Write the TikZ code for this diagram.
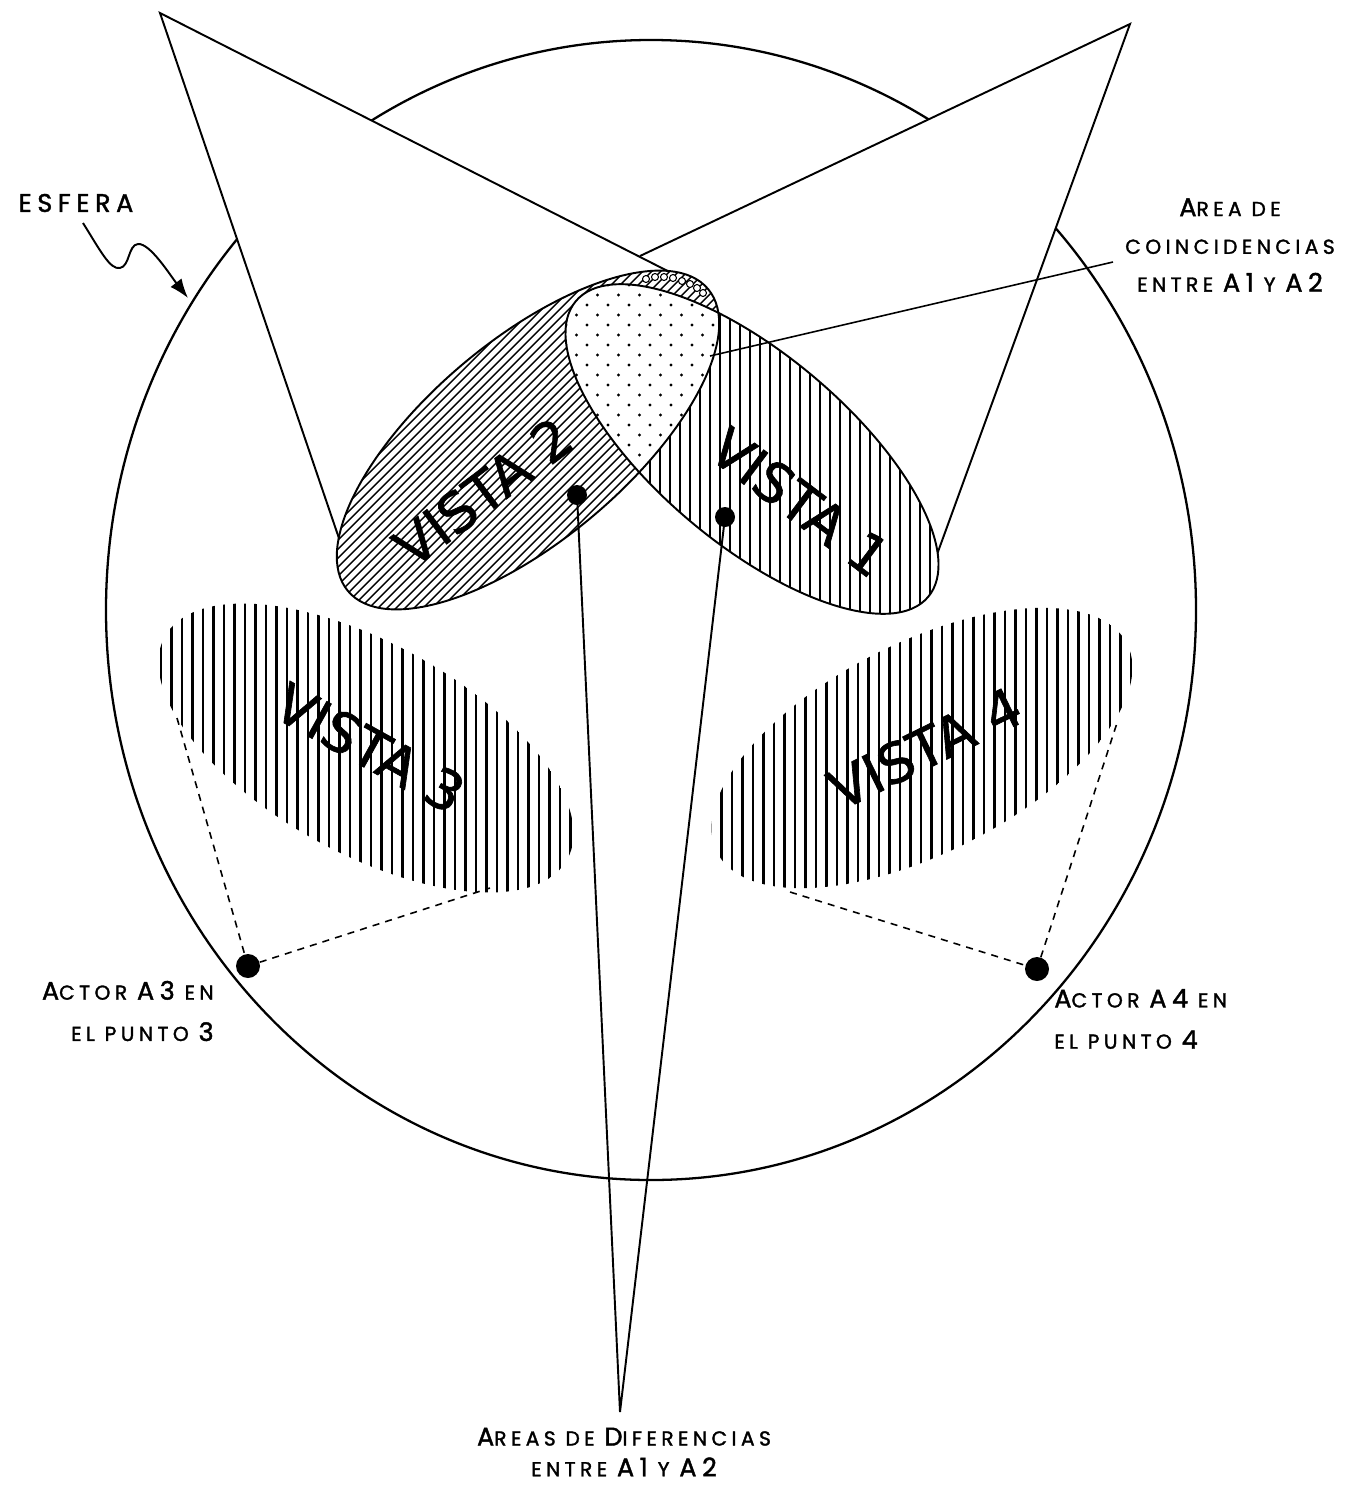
\documentclass[tikz,border=0pt]{standalone}
\usepackage{fontspec}
\setmainfont{Poppins}
\newfontfamily\lblfont[LetterSpace=22, FakeBold=1.6]{Poppins}
\newfontfamily\vistafont[FakeBold=1.2]{DejaVu Sans}
\usetikzlibrary{arrows.meta}
\newcommand\capl[1]{{\fontsize{14.5}{14.5}\selectfont #1}}
\newcommand\low[1]{\MakeUppercase{#1}}

\begin{document}
\begin{tikzpicture}[x=0.02cm, y=-0.02cm, >={Latex[length=11pt,width=8pt]},
  every node/.style={font=\lblfont\fontsize{11.5}{21.5}\selectfont, inner sep=0pt},
  vista/.style={font=\vistafont\fontsize{31}{31}\selectfont},
  rim/.style={line width=1.1pt},
  hatch/.style={line width=0.8pt},
  bars/.style={line width=1.3pt},
  spot/.style={circle, fill=black, minimum size=0.4cm},
  actor/.style={circle, fill=black, minimum size=0.48cm},
  sight/.style={dash pattern=on 4pt off 3.5pt, line width=0.9pt}]

  \useasboundingbox (0,0) rectangle (1345,1488);

  \coordinate (sph) at (651,610);
  \coordinate (la) at (160,13);
  \coordinate (l1) at (344,553);
  \coordinate (l2) at (707,291);
  \coordinate (ra) at (1130,24);
  \coordinate (r1) at (935,560);
  \coordinate (cross) at (640,256);
  \coordinate (c1) at (752,449);
  \coordinate (c2) at (528,440);
  \coordinate (c3) at (366,748);
  \coordinate (c4) at (922,748);

  \draw[line width=1.3pt] (sph) ellipse (545 and 570);

  \fill[white] (ra) -- (r1) -- (c1) -- (cross) -- cycle;
  \draw[rim] (cross) -- (ra) -- (r1);
  \fill[white] (la) -- (l1) -- (c2) -- (l2) -- cycle;
  \draw[rim] (l1) -- (la) -- (l2);

  \begin{scope}
    \clip[rotate around={40:(c2)}] (c2) ellipse (235 and 100);
    \fill[white] (300,250) rectangle (760,650);
    \foreach \k in {590,599,...,1350}
      \draw[hatch] (\k-250,250) -- (\k-650,650);
  \end{scope}
  \begin{scope}
    \clip[rotate around={-40:(c1)}] (c1) ellipse (230 and 95);
    \fill[white] (540,260) rectangle (960,640);
    \foreach \x in {560,570,...,950}
      \draw[hatch] (\x,260) -- (\x,640);
  \end{scope}
  \begin{scope}
    \clip[rotate around={40:(c2)}] (c2) ellipse (235 and 100);
    \clip[rotate around={-40:(c1)}] (c1) ellipse (230 and 95);
    \fill[white] (540,260) rectangle (760,480);
    \foreach \j in {0,...,22}
      \foreach \i in {0,...,11}
        \fill ({545+21*\i+10.5*mod(\j,2)},{265+10*\j}) circle (1.6);
  \end{scope}
  \draw[rim, rotate around={40:(c2)}] (c2) ellipse (235 and 100);
  \draw[rim, rotate around={-40:(c1)}] (c1) ellipse (230 and 95);
  \foreach \p in {(646,279),(655,277),(664,277),(673,278),(682,281),(690,284),(697,288),(703,293)}
    \draw[fill=white, line width=0.6pt] \p circle (3.5);

  \begin{scope}
    \clip[rotate around={-29:(c3)}] (c3) ellipse (230 and 105);
    \foreach \x in {140,150.5,...,600}
      \draw[bars] (\x,590) -- (\x,910);
  \end{scope}
  \begin{scope}
    \clip[rotate around={27:(c4)}] (c4) ellipse (230 and 105);
    \foreach \x in {690,700.5,...,1150}
      \draw[bars] (\x,590) -- (\x,910);
  \end{scope}

  \node[vista, rotate=37] (v2) at (483,492) {VISTA 2};
  \node[vista, rotate=-37] (v1) at (800,502) {VISTA 1};
  \node[vista, rotate=-29] (v3) at (370,748) {VISTA 3};
  \node[vista, rotate=26] (v4) at (925,748) {VISTA 4};

  \node[spot] (p2) at (577,495) {};
  \node[spot] (p1) at (725,517) {};
  \coordinate (bot) at (620,1412);
  \draw[rim] (p2.center) -- (bot) -- (p1.center);

  \node[actor] (a3) at (248,966) {};
  \node[actor] (a4) at (1037,969) {};
  \coordinate (v3a) at (177,718);
  \coordinate (v3b) at (490,888);
  \coordinate (v4a) at (790,892);
  \coordinate (v4b) at (1117,723);
  \draw[sight] (v3a) -- (a3) -- (v3b);
  \draw[sight] (v4a) -- (a4) -- (v4b);

  \node (esfera) at (76,203) {\capl{ESFERA}};
  \coordinate (es0) at (83,223);
  \coordinate (es1) at (188,298);
  \draw[->, rim] (es0) .. controls (100,250) and (110,270) .. (120,268)
    .. controls (130,266) and (128,245) .. (138,244)
    .. controls (150,243) and (170,275) .. (es1);

  \node[align=center] (coinc) at (1230,245)
    {\capl{A}\low{rea de}\\\low{coincidencias}\\\low{entre} \capl{A1} \low{y} \capl{A2}};
  \coordinate (cl) at (1113,262);
  \coordinate (lens) at (710,356);
  \draw[line width=0.9pt] (cl) -- (lens);

  \node[align=right, anchor=east] (act3) at (214,1011)
    {\capl{A}\low{ctor} \capl{A3} \low{en}\\[2pt]\low{el punto} \capl{3}};
  \node[align=left, anchor=west] (act4) at (1054,1019)
    {\capl{A}\low{ctor} \capl{A4} \low{en}\\[2pt]\low{el punto} \capl{4}};
  \node[align=center] (dif) at (624,1452)
    {\capl{A}\low{reas de} \capl{D}\low{iferencias}\\[-4pt]\low{entre} \capl{A1} \low{y} \capl{A2}};
\end{tikzpicture}
\end{document}
